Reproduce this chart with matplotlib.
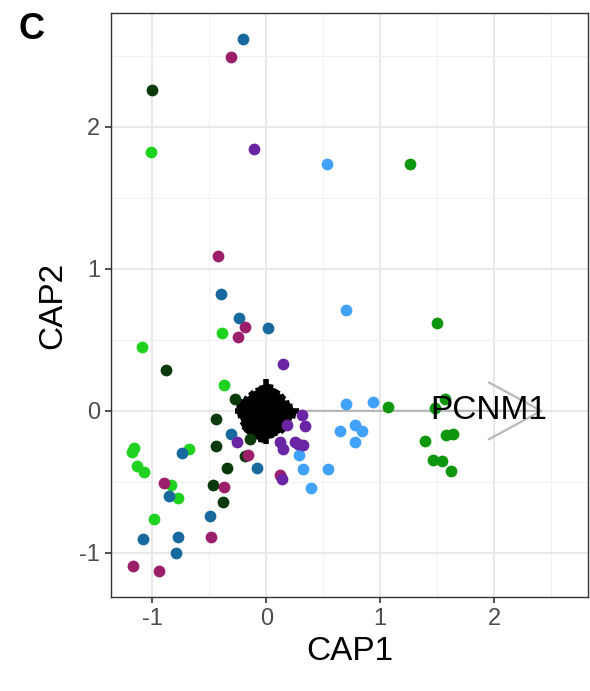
import matplotlib
matplotlib.use("Agg")
import matplotlib.pyplot as plt
from matplotlib.collections import LineCollection

plt.rcParams['font.family'] = ['Liberation Sans', 'DejaVu Sans']
plt.rcParams['axes.unicode_minus'] = False

# Site scores (CAP1, CAP2) per group
groups = {
    "g_dark":   {"color": "#0a3a0c",
                 "x": [-1.00, -0.88, -0.27, -0.44, -0.14, -0.19, -0.44, -0.34, -0.47, -0.38],
                 "y": [2.26, 0.29, 0.08, -0.06, -0.20, -0.32, -0.25, -0.40, -0.52, -0.64]},
    "g_bright": {"color": "#1fd21f",
                 "x": [-1.01, -0.39, -1.09, -0.37, -1.16, -1.18, -1.13, -1.07, -0.675, -0.83, -0.77, -0.98],
                 "y": [1.82, 0.55, 0.45, 0.18, -0.26, -0.29, -0.39, -0.43, -0.27, -0.52, -0.61, -0.76]},
    "g_mid":    {"color": "#0f960f",
                 "x": [1.26, 1.50, 1.07, 1.57, 1.48, 1.39, 1.58, 1.64, 1.46, 1.54, 1.62],
                 "y": [1.74, 0.62, 0.03, 0.08, 0.02, -0.21, -0.17, -0.16, -0.345, -0.35, -0.42]},
    "teal":     {"color": "#186a9e",
                 "x": [-0.20, -0.40, -0.24, 0.02, -0.31, -0.08, -0.49, -0.74, -0.85, -1.08, -0.77, -0.79],
                 "y": [2.62, 0.82, 0.65, 0.58, -0.16, -0.40, -0.74, -0.30, -0.60, -0.90, -0.89, -1.00]},
    "lblue":    {"color": "#40a2fa",
                 "x": [0.53, 0.70, 0.70, 0.94, 0.65, 0.78, 0.84, 0.78, 0.29, 0.32, 0.54, 0.39],
                 "y": [1.74, 0.71, 0.05, 0.06, -0.14, -0.10, -0.14, -0.22, -0.31, -0.41, -0.41, -0.54]},
    "magenta":  {"color": "#9c1f6c",
                 "x": [-0.31, -0.42, -0.19, -0.25, -0.16, -0.37, -0.48, -0.895, -1.17, -0.94, 0.12],
                 "y": [2.49, 1.09, 0.59, 0.52, -0.31, -0.535, -0.89, -0.51, -1.09, -1.13, -0.45]},
    "purple":   {"color": "#6a25a4",
                 "x": [-0.105, 0.15, 0.31, 0.34, 0.18, -0.26, 0.12, 0.15, 0.25, 0.28, 0.32, 0.14],
                 "y": [1.84, 0.33, -0.03, -0.11, -0.10, -0.22, -0.22, -0.27, -0.22, -0.23, -0.24, -0.48]},
}

# Species vectors (short arrows clustered around the origin)
species_x = [0.289, 0.233, 0.206, 0.167, 0.161, 0.124, 0.105, 0.072, 0.041, 0.000,
             -0.040, -0.075, -0.101, -0.141, -0.155, -0.198, -0.231, -0.259, -0.272,
             -0.251, -0.223, -0.220, -0.202, -0.169, -0.123, -0.090, -0.049, 0.000,
             0.043, 0.081, 0.114, 0.158, 0.181, 0.213, 0.223, 0.259,
             0.174, 0.124, -0.013, -0.124, -0.183, -0.136, 0.017, 0.130]
species_y = [0.000, 0.033, 0.060, 0.077, 0.109, 0.119, 0.146, 0.159, 0.187, 0.225,
             0.180, 0.165, 0.140, 0.135, 0.104, 0.092, 0.067, 0.037, 0.000,
             -0.035, -0.065, -0.102, -0.136, -0.162, -0.171, -0.199, -0.222, -0.232,
             -0.194, -0.179, -0.159, -0.151, -0.122, -0.099, -0.065, -0.037,
             0.012, 0.100, 0.147, 0.100, -0.013, -0.110, -0.154, -0.105]

# Environmental vector
env_label = "PCNM1"
env_x, env_y = 2.43, 0.0
env_label_x = 1.95

x_ticks = [-1, 0, 1, 2]
y_ticks = [-1, 0, 1, 2]

fig = plt.figure(figsize=(5.9, 6.91), dpi=100)
ax = fig.add_axes([111/590, 1 - 597/691, 477/590, 584/691])

ax.set_xlim(-1.36, 2.82)
ax.set_ylim(-1.31, 2.80)

# theme_bw-like grid
ax.set_xticks(x_ticks)
ax.set_yticks(y_ticks)
ax.set_xticks([-0.5, 0.5, 1.5, 2.5], minor=True)
ax.set_yticks([-0.5, 0.5, 1.5, 2.5], minor=True)
ax.grid(which='major', color='#e8e8e8', linewidth=1.4, zorder=0)
ax.grid(which='minor', color='#f1f1f1', linewidth=0.8, zorder=0)
ax.set_axisbelow(True)
ax.tick_params(which='minor', length=0)
ax.tick_params(which='major', length=4, width=1.2, color='#333333',
               labelsize=17, labelcolor='#4d4d4d', pad=4)
for s in ax.spines.values():
    s.set_color('#333333')
    s.set_linewidth(1.0)

# environmental arrow (under the species cluster)
ax.annotate("", xy=(env_x, env_y), xytext=(0, 0),
            arrowprops=dict(arrowstyle="->,head_length=3.77,head_width=2.05",
                            color='#b8b8b8', lw=1.6, shrinkA=0, shrinkB=0,
                            mutation_scale=10),
            zorder=1.5)

# species cluster: thick shafts plus small arrow heads
segs = [[(0, 0), (sx, sy)] for sx, sy in zip(species_x, species_y)]
ax.add_collection(LineCollection(segs, colors='black', linewidths=4.0,
                                 capstyle='butt', zorder=2))
for sx, sy in zip(species_x, species_y):
    ax.annotate("", xy=(sx, sy), xytext=(0, 0),
                arrowprops=dict(arrowstyle="-|>,head_length=0.45,head_width=0.2",
                                color='black', lw=1.0, shrinkA=0, shrinkB=0,
                                mutation_scale=10),
                zorder=2)

for g in groups.values():
    ax.scatter(g["x"], g["y"], s=72, color=g["color"], linewidths=0, zorder=3)

ax.text(env_label_x, env_y, env_label, fontsize=24, color='black',
        ha='center', va='center', zorder=4)

ax.set_xlabel("CAP1", fontsize=24, labelpad=4)
ax.set_ylabel("CAP2", fontsize=24, labelpad=8)

fig.text(18/590, 1 - 12/691, "C", fontsize=26, fontweight='bold', ha='left', va='top')

fig.savefig("out.png", dpi=100)
